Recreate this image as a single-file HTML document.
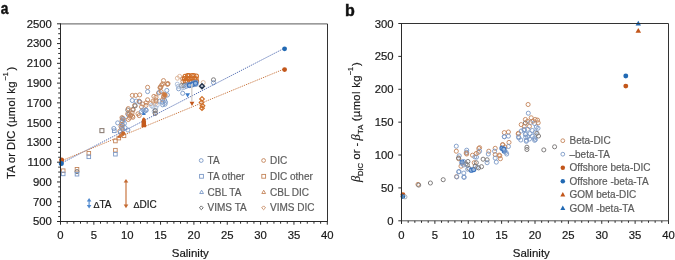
<!DOCTYPE html>
<html><head><meta charset="utf-8"><style>
html,body{margin:0;padding:0;background:#fff;}
svg{display:block;font-family:"Liberation Sans", sans-serif;will-change:transform;}
</style></head><body>
<svg width="675" height="260" viewBox="0 0 675 260">
<defs><filter id="sb" x="-5%" y="-5%" width="110%" height="110%"><feGaussianBlur stdDeviation="0.3"/></filter></defs>
<rect width="675" height="260" fill="#fff"/>
<g id="pa">
<g filter="url(#sb)">
<rect x="61.4" y="168.9" width="3.6" height="3.6" fill="none" stroke="#c4855a" stroke-width="0.9"/>
<rect x="61.4" y="172.1" width="3.6" height="3.6" fill="none" stroke="#7b98c6" stroke-width="0.9"/>
<rect x="75.2" y="167.5" width="3.6" height="3.6" fill="none" stroke="#c4855a" stroke-width="0.9"/>
<circle cx="77" cy="171.6" r="2.05" fill="none" stroke="#7f7c7c" stroke-width="1.0"/>
<rect x="75.2" y="172.4" width="3.6" height="3.6" fill="none" stroke="#7b98c6" stroke-width="0.9"/>
<rect x="87" y="151.5" width="3.6" height="3.6" fill="none" stroke="#c4855a" stroke-width="0.9"/>
<rect x="87" y="155" width="3.6" height="3.6" fill="none" stroke="#7b98c6" stroke-width="0.9"/>
<rect x="112.5" y="129" width="3.6" height="3.6" fill="none" stroke="#7b98c6" stroke-width="0.9"/>
<rect x="113.6" y="139.2" width="3.6" height="3.6" fill="none" stroke="#c4855a" stroke-width="0.9"/>
<rect x="117" y="136.3" width="3.6" height="3.6" fill="none" stroke="#c4855a" stroke-width="0.9"/>
<rect x="122.2" y="134" width="3.6" height="3.6" fill="none" stroke="#c4855a" stroke-width="0.9"/>
<polygon points="122.3,131.91 124.3,135.39 120.3,135.39" fill="#c2561a"/>
<polygon points="119.4,134.21 121.4,137.69 117.4,137.69" fill="#c2561a"/>
<rect x="113.6" y="148.4" width="3.6" height="3.6" fill="none" stroke="#c4855a" stroke-width="0.9"/>
<rect x="113.6" y="152.4" width="3.6" height="3.6" fill="none" stroke="#7b98c6" stroke-width="0.9"/>
<circle cx="117.7" cy="122.9" r="2.05" fill="none" stroke="#7b98c6" stroke-width="0.9"/>
<circle cx="124.4" cy="123.4" r="2.05" fill="none" stroke="#7b98c6" stroke-width="0.9"/>
<circle cx="125" cy="127.7" r="2.05" fill="none" stroke="#7b98c6" stroke-width="0.9"/>
<circle cx="127.9" cy="130" r="2.05" fill="none" stroke="#7b98c6" stroke-width="0.9"/>
<circle cx="113.8" cy="128.5" r="2.05" fill="none" stroke="#7b98c6" stroke-width="0.9"/>
<circle cx="122" cy="117.6" r="2.05" fill="none" stroke="#c4855a" stroke-width="0.9"/>
<circle cx="122.6" cy="118.5" r="2.05" fill="none" stroke="#7b98c6" stroke-width="0.9"/>
<circle cx="122" cy="120.5" r="2.05" fill="none" stroke="#c4855a" stroke-width="0.9"/>
<circle cx="122.6" cy="121.4" r="2.05" fill="none" stroke="#7b98c6" stroke-width="0.9"/>
<circle cx="122" cy="124.3" r="2.05" fill="none" stroke="#c4855a" stroke-width="0.9"/>
<circle cx="122.6" cy="125.2" r="2.05" fill="none" stroke="#7b98c6" stroke-width="0.9"/>
<circle cx="121" cy="126.5" r="2.05" fill="none" stroke="#c4855a" stroke-width="0.9"/>
<circle cx="121.6" cy="127.4" r="2.05" fill="none" stroke="#7b98c6" stroke-width="0.9"/>
<circle cx="119.8" cy="131.1" r="2.05" fill="none" stroke="#c4855a" stroke-width="0.9"/>
<circle cx="120.4" cy="132" r="2.05" fill="none" stroke="#7b98c6" stroke-width="0.9"/>
<circle cx="122" cy="128.2" r="2.05" fill="none" stroke="#c4855a" stroke-width="0.9"/>
<circle cx="122.6" cy="129.1" r="2.05" fill="none" stroke="#7b98c6" stroke-width="0.9"/>
<circle cx="127.7" cy="113.8" r="2.05" fill="none" stroke="#c4855a" stroke-width="0.9"/>
<circle cx="128.3" cy="114.7" r="2.05" fill="none" stroke="#7b98c6" stroke-width="0.9"/>
<circle cx="123" cy="118.5" r="2.05" fill="none" stroke="#c4855a" stroke-width="0.9"/>
<circle cx="123.6" cy="119.4" r="2.05" fill="none" stroke="#7b98c6" stroke-width="0.9"/>
<circle cx="129.2" cy="113.8" r="2.05" fill="none" stroke="#c4855a" stroke-width="0.9"/>
<circle cx="130.7" cy="115.7" r="2.05" fill="none" stroke="#c4855a" stroke-width="0.9"/>
<circle cx="132.1" cy="112.8" r="2.05" fill="none" stroke="#c4855a" stroke-width="0.9"/>
<circle cx="128.3" cy="119.5" r="2.05" fill="none" stroke="#c4855a" stroke-width="0.9"/>
<circle cx="130.6" cy="115" r="2.05" fill="none" stroke="#c4855a" stroke-width="0.9"/>
<circle cx="132.9" cy="117.3" r="2.05" fill="none" stroke="#c4855a" stroke-width="0.9"/>
<circle cx="127.8" cy="110" r="2.05" fill="none" stroke="#7f7c7c" stroke-width="1.0"/>
<circle cx="133" cy="109.4" r="2.05" fill="none" stroke="#7f7c7c" stroke-width="1.0"/>
<circle cx="128.3" cy="108.6" r="2.05" fill="none" stroke="#c4855a" stroke-width="0.9"/>
<circle cx="129.6" cy="117.9" r="2.05" fill="none" stroke="#c4855a" stroke-width="0.9"/>
<circle cx="132.5" cy="116.2" r="2.05" fill="none" stroke="#c4855a" stroke-width="0.9"/>
<circle cx="134.6" cy="105.4" r="2.05" fill="none" stroke="#c4855a" stroke-width="0.9"/>
<circle cx="133" cy="110" r="2.05" fill="none" stroke="#c4855a" stroke-width="0.9"/>
<circle cx="135.2" cy="105.8" r="2.05" fill="none" stroke="#7f7c7c" stroke-width="1.0"/>
<circle cx="132.3" cy="95.4" r="2.05" fill="none" stroke="#c4855a" stroke-width="0.9"/>
<circle cx="135.7" cy="95.4" r="2.05" fill="none" stroke="#c4855a" stroke-width="0.9"/>
<circle cx="139.7" cy="94.9" r="2.05" fill="none" stroke="#c4855a" stroke-width="0.9"/>
<circle cx="132.3" cy="100.5" r="2.05" fill="none" stroke="#7b98c6" stroke-width="0.9"/>
<circle cx="136.2" cy="101.1" r="2.05" fill="none" stroke="#7b98c6" stroke-width="0.9"/>
<circle cx="139.7" cy="102" r="2.05" fill="none" stroke="#7b98c6" stroke-width="0.9"/>
<circle cx="147.6" cy="87.3" r="2.05" fill="none" stroke="#c4855a" stroke-width="0.9"/>
<circle cx="147.6" cy="91.6" r="2.05" fill="none" stroke="#7b98c6" stroke-width="0.9"/>
<circle cx="139.4" cy="101.7" r="2.05" fill="none" stroke="#7b98c6" stroke-width="0.9"/>
<circle cx="147.6" cy="99.8" r="2.05" fill="none" stroke="#c4855a" stroke-width="0.9"/>
<circle cx="153.9" cy="96.4" r="2.05" fill="none" stroke="#c4855a" stroke-width="0.9"/>
<circle cx="155.8" cy="99.8" r="2.05" fill="none" stroke="#dcb59a" stroke-width="0.9"/>
<circle cx="154.8" cy="102.2" r="2.05" fill="none" stroke="#dcb59a" stroke-width="0.9"/>
<circle cx="141.5" cy="106.9" r="2.05" fill="none" stroke="#c4855a" stroke-width="0.9"/>
<circle cx="146" cy="105.4" r="2.05" fill="none" stroke="#c4855a" stroke-width="0.9"/>
<circle cx="138" cy="113.8" r="2.05" fill="none" stroke="#c4855a" stroke-width="0.9"/>
<circle cx="139.2" cy="115.6" r="2.05" fill="none" stroke="#c4855a" stroke-width="0.9"/>
<circle cx="143" cy="110" r="2.05" fill="none" stroke="#7b98c6" stroke-width="0.9"/>
<circle cx="146" cy="110" r="2.05" fill="none" stroke="#7b98c6" stroke-width="0.9"/>
<circle cx="141.5" cy="111.5" r="2.05" fill="none" stroke="#7b98c6" stroke-width="0.9"/>
<circle cx="144.4" cy="111.5" r="2.05" fill="none" stroke="#7b98c6" stroke-width="0.9"/>
<circle cx="146.1" cy="110.4" r="2.05" fill="none" stroke="#7b98c6" stroke-width="0.9"/>
<circle cx="139.2" cy="101.2" r="2.05" fill="none" stroke="#c4855a" stroke-width="0.9"/>
<circle cx="142.7" cy="104" r="2.05" fill="none" stroke="#c4855a" stroke-width="0.9"/>
<circle cx="146.1" cy="102.9" r="2.05" fill="none" stroke="#c4855a" stroke-width="0.9"/>
<circle cx="150.7" cy="103.5" r="2.05" fill="none" stroke="#c4855a" stroke-width="0.9"/>
<circle cx="153" cy="101.2" r="2.05" fill="none" stroke="#c4855a" stroke-width="0.9"/>
<circle cx="153" cy="106.9" r="2.05" fill="none" stroke="#a9bcd8" stroke-width="0.9"/>
<circle cx="154.2" cy="111.5" r="2.05" fill="none" stroke="#a9bcd8" stroke-width="0.9"/>
<circle cx="151.5" cy="105.6" r="2.05" fill="none" stroke="#a9bcd8" stroke-width="0.9"/>
<circle cx="157.2" cy="105" r="2.05" fill="none" stroke="#a9bcd8" stroke-width="0.9"/>
<circle cx="155.4" cy="113" r="2.05" fill="none" stroke="#dcb59a" stroke-width="0.9"/>
<circle cx="155.4" cy="110.8" r="2.05" fill="none" stroke="#a9bcd8" stroke-width="0.9"/>
<circle cx="158.5" cy="93" r="2.05" fill="none" stroke="#c4855a" stroke-width="0.9"/>
<circle cx="153.8" cy="101" r="2.05" fill="none" stroke="#dcb59a" stroke-width="0.9"/>
<circle cx="155.4" cy="103.8" r="2.05" fill="none" stroke="#dcb59a" stroke-width="0.9"/>
<circle cx="159.6" cy="101.2" r="2.05" fill="none" stroke="#7b98c6" stroke-width="0.9"/>
<circle cx="155.8" cy="107.7" r="2.05" fill="none" stroke="#a9bcd8" stroke-width="0.9"/>
<circle cx="155.2" cy="110.6" r="2.05" fill="none" stroke="#7f7c7c" stroke-width="1.0"/>
<circle cx="155.2" cy="113.5" r="2.05" fill="none" stroke="#7f7c7c" stroke-width="1.0"/>
<circle cx="163.8" cy="97.3" r="2.05" fill="none" stroke="#c4855a" stroke-width="0.9"/>
<circle cx="162.7" cy="99.6" r="2.05" fill="none" stroke="#c4855a" stroke-width="0.9"/>
<circle cx="162.7" cy="104.8" r="2.05" fill="none" stroke="#7b98c6" stroke-width="0.9"/>
<circle cx="165" cy="104.2" r="2.05" fill="none" stroke="#7b98c6" stroke-width="0.9"/>
<circle cx="163.5" cy="80.6" r="2.05" fill="none" stroke="#c4855a" stroke-width="0.9"/>
<circle cx="167.5" cy="84.3" r="2.05" fill="none" stroke="#c4855a" stroke-width="0.9"/>
<circle cx="160.8" cy="87.1" r="2.05" fill="none" stroke="#c4855a" stroke-width="0.9"/>
<circle cx="162.8" cy="83.9" r="2.05" fill="none" stroke="#c4855a" stroke-width="0.9"/>
<circle cx="159.3" cy="92.4" r="2.05" fill="none" stroke="#7b98c6" stroke-width="0.9"/>
<circle cx="166.8" cy="90.4" r="2.05" fill="none" stroke="#7b98c6" stroke-width="0.9"/>
<circle cx="167.4" cy="95" r="2.05" fill="none" stroke="#7b98c6" stroke-width="0.9"/>
<circle cx="164.6" cy="100.1" r="2.05" fill="none" stroke="#7b98c6" stroke-width="0.9"/>
<circle cx="156" cy="97.2" r="2.05" fill="none" stroke="#c4855a" stroke-width="0.9"/>
<circle cx="156" cy="101" r="2.05" fill="none" stroke="#c4855a" stroke-width="0.9"/>
<circle cx="161.6" cy="85.1" r="2.05" fill="none" stroke="#c4855a" stroke-width="0.9"/>
<circle cx="160.1" cy="87.8" r="2.05" fill="none" stroke="#c4855a" stroke-width="0.9"/>
<circle cx="161.1" cy="91.6" r="2.05" fill="none" stroke="#c4855a" stroke-width="0.9"/>
<circle cx="168" cy="83.6" r="2.05" fill="none" stroke="#c4855a" stroke-width="0.9"/>
<circle cx="203.2" cy="82.6" r="2.05" fill="none" stroke="#dcb59a" stroke-width="0.9"/>
<polygon points="202,96.7 204.3,99 202,101.3 199.7,99" fill="none" stroke="#d0702a" stroke-width="1.2"/>
<polygon points="201.5,100.1 203.8,102.4 201.5,104.7 199.2,102.4" fill="none" stroke="#d0702a" stroke-width="1.2"/>
<polygon points="202.5,103.5 204.8,105.8 202.5,108.1 200.2,105.8" fill="none" stroke="#d0702a" stroke-width="1.2"/>
<polygon points="202,105.9 204.3,108.2 202,110.5 199.7,108.2" fill="none" stroke="#d0702a" stroke-width="1.2"/>
<circle cx="213.5" cy="79.8" r="2.05" fill="none" stroke="#7f7c7c" stroke-width="1.0"/>
<circle cx="213.5" cy="82.7" r="2.05" fill="none" stroke="#7b98c6" stroke-width="0.9"/>
<circle cx="177.4" cy="78.2" r="2.05" fill="none" stroke="#dcb59a" stroke-width="0.9"/>
<circle cx="179.6" cy="76.4" r="2.05" fill="none" stroke="#dcb59a" stroke-width="0.9"/>
<circle cx="177.3" cy="84.2" r="2.05" fill="none" stroke="#a9bcd8" stroke-width="0.9"/>
<circle cx="178.6" cy="88.8" r="2.05" fill="none" stroke="#7b98c6" stroke-width="0.9"/>
<circle cx="182.7" cy="78.7" r="2.05" fill="none" stroke="#c4855a" stroke-width="0.9"/>
<circle cx="182.9" cy="81.5" r="2.05" fill="none" stroke="#c4855a" stroke-width="0.9"/>
<circle cx="185.1" cy="76.3" r="2.05" fill="none" stroke="#d06e26" stroke-width="1.05"/>
<circle cx="184.4" cy="78.5" r="2.05" fill="none" stroke="#d06e26" stroke-width="1.05"/>
<circle cx="185.3" cy="81.2" r="2.05" fill="none" stroke="#d06e26" stroke-width="1.05"/>
<circle cx="187.6" cy="75.5" r="2.05" fill="none" stroke="#d06e26" stroke-width="1.05"/>
<circle cx="187.2" cy="78.2" r="2.05" fill="none" stroke="#d06e26" stroke-width="1.05"/>
<circle cx="187.2" cy="81.2" r="2.05" fill="none" stroke="#d06e26" stroke-width="1.05"/>
<circle cx="189" cy="75.6" r="2.05" fill="none" stroke="#d06e26" stroke-width="1.05"/>
<circle cx="189.3" cy="78.9" r="2.05" fill="none" stroke="#d06e26" stroke-width="1.05"/>
<circle cx="189.8" cy="80.8" r="2.05" fill="none" stroke="#d06e26" stroke-width="1.05"/>
<circle cx="192.1" cy="75.5" r="2.05" fill="none" stroke="#d06e26" stroke-width="1.05"/>
<circle cx="191.9" cy="78.1" r="2.05" fill="none" stroke="#d06e26" stroke-width="1.05"/>
<circle cx="191.3" cy="81.5" r="2.05" fill="none" stroke="#d06e26" stroke-width="1.05"/>
<circle cx="193.8" cy="75.6" r="2.05" fill="none" stroke="#d06e26" stroke-width="1.05"/>
<circle cx="194.6" cy="78.9" r="2.05" fill="none" stroke="#d06e26" stroke-width="1.05"/>
<circle cx="193.9" cy="81.6" r="2.05" fill="none" stroke="#d06e26" stroke-width="1.05"/>
<circle cx="196.4" cy="76.1" r="2.05" fill="none" stroke="#d06e26" stroke-width="1.05"/>
<circle cx="196.1" cy="78.9" r="2.05" fill="none" stroke="#d06e26" stroke-width="1.05"/>
<circle cx="196.6" cy="81.6" r="2.05" fill="none" stroke="#d06e26" stroke-width="1.05"/>
<circle cx="164.1" cy="94.3" r="2.05" fill="none" stroke="#c4855a" stroke-width="0.9"/>
<circle cx="163.6" cy="96.4" r="2.05" fill="none" stroke="#c4855a" stroke-width="0.9"/>
<circle cx="165.2" cy="95.4" r="2.05" fill="none" stroke="#c4855a" stroke-width="0.9"/>
<circle cx="164.5" cy="94.9" r="2.05" fill="none" stroke="#c4855a" stroke-width="0.9"/>
<circle cx="167.4" cy="83.9" r="2.05" fill="none" stroke="#c4855a" stroke-width="0.9"/>
<circle cx="160.2" cy="87.2" r="2.05" fill="none" stroke="#c4855a" stroke-width="0.9"/>
<circle cx="162.2" cy="102.2" r="2.05" fill="none" stroke="#7b98c6" stroke-width="0.9"/>
<circle cx="165.5" cy="102.2" r="2.05" fill="none" stroke="#7b98c6" stroke-width="0.9"/>
<circle cx="181.5" cy="85.6" r="2.05" fill="none" stroke="#7f7c7c" stroke-width="1.0"/>
<circle cx="181.8" cy="88" r="2.05" fill="none" stroke="#a9bcd8" stroke-width="0.9"/>
<circle cx="184" cy="85.3" r="2.05" fill="none" stroke="#7f7c7c" stroke-width="1.0"/>
<circle cx="183.7" cy="87.6" r="2.05" fill="none" stroke="#a9bcd8" stroke-width="0.9"/>
<circle cx="186.6" cy="84.9" r="2.05" fill="none" stroke="#7b98c6" stroke-width="0.9"/>
<circle cx="186.2" cy="86.4" r="2.05" fill="none" stroke="#7b98c6" stroke-width="0.9"/>
<circle cx="188.7" cy="84.2" r="2.05" fill="none" stroke="#7b98c6" stroke-width="0.9"/>
<circle cx="189.2" cy="85.7" r="2.05" fill="none" stroke="#7b98c6" stroke-width="0.9"/>
<circle cx="191.9" cy="83.7" r="2.05" fill="none" stroke="#7b98c6" stroke-width="0.9"/>
<circle cx="191.6" cy="85.5" r="2.05" fill="none" stroke="#7b98c6" stroke-width="0.9"/>
<circle cx="193.7" cy="82.6" r="2.05" fill="none" stroke="#7b98c6" stroke-width="0.9"/>
<circle cx="194" cy="84.7" r="2.05" fill="none" stroke="#7b98c6" stroke-width="0.9"/>
<circle cx="196.3" cy="82.2" r="2.05" fill="none" stroke="#7b98c6" stroke-width="0.9"/>
<circle cx="196.1" cy="84.4" r="2.05" fill="none" stroke="#7b98c6" stroke-width="0.9"/>
<circle cx="182.7" cy="93.3" r="2.05" fill="none" stroke="#7b98c6" stroke-width="0.9"/>
<circle cx="178.2" cy="86.4" r="2.05" fill="none" stroke="#a9bcd8" stroke-width="0.9"/>
<circle cx="192.5" cy="84.2" r="2.0" fill="#9dbbe0"/>
<circle cx="192.5" cy="84.2" r="2.05" fill="none" stroke="#3a72bd" stroke-width="1.1"/>
<circle cx="195.5" cy="83.2" r="2.0" fill="#9dbbe0"/>
<circle cx="195.5" cy="83.2" r="2.05" fill="none" stroke="#3a72bd" stroke-width="1.1"/>
<circle cx="189.5" cy="85.2" r="2.0" fill="#9dbbe0"/>
<circle cx="189.5" cy="85.2" r="2.05" fill="none" stroke="#3a72bd" stroke-width="1.1"/>
</g>
<line x1="61" y1="163.4" x2="284.6" y2="48.1" stroke="#4f69b0" stroke-width="0.95" stroke-dasharray="1.3 1.0"/>
<line x1="61" y1="161" x2="284.6" y2="68.8" stroke="#c8763f" stroke-width="0.95" stroke-dasharray="1.3 1.0"/>
<circle cx="284.6" cy="48.8" r="2.4" fill="#2169b3"/>
<circle cx="284.6" cy="69.6" r="2.4" fill="#c2561a"/>
<circle cx="61.6" cy="159.9" r="2.5" fill="#c2561a"/>
<circle cx="61.3" cy="163.6" r="2.5" fill="#2169b3"/>
<circle cx="164.6" cy="94.8" r="2.1" fill="#cf7a3e"/>
<circle cx="123.2" cy="133.2" r="2.0" fill="#c8692a"/>
<circle cx="120.8" cy="135.4" r="1.8" fill="#d07a40"/>
<rect x="99.9" y="128.6" width="4.0" height="4.0" fill="none" stroke="#8f8178" stroke-width="1.1"/>
<line x1="191.8" y1="84" x2="191.8" y2="101.5" stroke="#d5d0cc" stroke-width="1.4" />
<path d="M141.5,127.3 L141.6,121.6 Q141.8,118.3 143.8,117.3 Q145.8,118.3 146,121.6 L146.1,127.3 Z" fill="#c45a1c"/>
<polygon points="143.8,111.41 145.8,114.89 141.8,114.89" fill="#3d7cc9"/>
<polygon points="185.2,93.33 190,93.33 187.6,97.51" fill="#3d7cc9"/>
<polygon points="189.6,101.73 194.4,101.73 192,105.91" fill="#c2561a"/>
<polygon points="202,83.8 204.4,86.2 202,88.6 199.6,86.2" fill="none" stroke="#26364f" stroke-width="1.5"/>
<circle cx="202" cy="86.2" r="0.5" fill="none" stroke="#7d8aa0" stroke-width="0.7"/>
<line x1="60.5" y1="23.8" x2="327.3" y2="23.8" stroke="#7a7a7a" stroke-width="1.2" />
<line x1="327.5" y1="23.8" x2="327.5" y2="221.5" stroke="#333" stroke-width="1" />
<line x1="60.5" y1="23.3" x2="60.5" y2="222" stroke="#2b2b2b" stroke-width="1" />
<line x1="60" y1="221.5" x2="327.8" y2="221.5" stroke="#2b2b2b" stroke-width="1" />
<line x1="57" y1="221.5" x2="60.5" y2="221.5" stroke="#2b2b2b" stroke-width="1" />
<line x1="58.2" y1="216.56" x2="60.5" y2="216.56" stroke="#2b2b2b" stroke-width="1" />
<line x1="58.2" y1="211.62" x2="60.5" y2="211.62" stroke="#2b2b2b" stroke-width="1" />
<line x1="58.2" y1="206.67" x2="60.5" y2="206.67" stroke="#2b2b2b" stroke-width="1" />
<line x1="57" y1="201.73" x2="60.5" y2="201.73" stroke="#2b2b2b" stroke-width="1" />
<line x1="58.2" y1="196.79" x2="60.5" y2="196.79" stroke="#2b2b2b" stroke-width="1" />
<line x1="58.2" y1="191.84" x2="60.5" y2="191.84" stroke="#2b2b2b" stroke-width="1" />
<line x1="58.2" y1="186.9" x2="60.5" y2="186.9" stroke="#2b2b2b" stroke-width="1" />
<line x1="57" y1="181.96" x2="60.5" y2="181.96" stroke="#2b2b2b" stroke-width="1" />
<line x1="58.2" y1="177.02" x2="60.5" y2="177.02" stroke="#2b2b2b" stroke-width="1" />
<line x1="58.2" y1="172.07" x2="60.5" y2="172.07" stroke="#2b2b2b" stroke-width="1" />
<line x1="58.2" y1="167.13" x2="60.5" y2="167.13" stroke="#2b2b2b" stroke-width="1" />
<line x1="57" y1="162.19" x2="60.5" y2="162.19" stroke="#2b2b2b" stroke-width="1" />
<line x1="58.2" y1="157.25" x2="60.5" y2="157.25" stroke="#2b2b2b" stroke-width="1" />
<line x1="58.2" y1="152.31" x2="60.5" y2="152.31" stroke="#2b2b2b" stroke-width="1" />
<line x1="58.2" y1="147.36" x2="60.5" y2="147.36" stroke="#2b2b2b" stroke-width="1" />
<line x1="57" y1="142.42" x2="60.5" y2="142.42" stroke="#2b2b2b" stroke-width="1" />
<line x1="58.2" y1="137.48" x2="60.5" y2="137.48" stroke="#2b2b2b" stroke-width="1" />
<line x1="58.2" y1="132.53" x2="60.5" y2="132.53" stroke="#2b2b2b" stroke-width="1" />
<line x1="58.2" y1="127.59" x2="60.5" y2="127.59" stroke="#2b2b2b" stroke-width="1" />
<line x1="57" y1="122.65" x2="60.5" y2="122.65" stroke="#2b2b2b" stroke-width="1" />
<line x1="58.2" y1="117.71" x2="60.5" y2="117.71" stroke="#2b2b2b" stroke-width="1" />
<line x1="58.2" y1="112.77" x2="60.5" y2="112.77" stroke="#2b2b2b" stroke-width="1" />
<line x1="58.2" y1="107.82" x2="60.5" y2="107.82" stroke="#2b2b2b" stroke-width="1" />
<line x1="57" y1="102.88" x2="60.5" y2="102.88" stroke="#2b2b2b" stroke-width="1" />
<line x1="58.2" y1="97.94" x2="60.5" y2="97.94" stroke="#2b2b2b" stroke-width="1" />
<line x1="58.2" y1="93" x2="60.5" y2="93" stroke="#2b2b2b" stroke-width="1" />
<line x1="58.2" y1="88.05" x2="60.5" y2="88.05" stroke="#2b2b2b" stroke-width="1" />
<line x1="57" y1="83.11" x2="60.5" y2="83.11" stroke="#2b2b2b" stroke-width="1" />
<line x1="58.2" y1="78.17" x2="60.5" y2="78.17" stroke="#2b2b2b" stroke-width="1" />
<line x1="58.2" y1="73.22" x2="60.5" y2="73.22" stroke="#2b2b2b" stroke-width="1" />
<line x1="58.2" y1="68.28" x2="60.5" y2="68.28" stroke="#2b2b2b" stroke-width="1" />
<line x1="57" y1="63.34" x2="60.5" y2="63.34" stroke="#2b2b2b" stroke-width="1" />
<line x1="58.2" y1="58.4" x2="60.5" y2="58.4" stroke="#2b2b2b" stroke-width="1" />
<line x1="58.2" y1="53.46" x2="60.5" y2="53.46" stroke="#2b2b2b" stroke-width="1" />
<line x1="58.2" y1="48.51" x2="60.5" y2="48.51" stroke="#2b2b2b" stroke-width="1" />
<line x1="57" y1="43.57" x2="60.5" y2="43.57" stroke="#2b2b2b" stroke-width="1" />
<line x1="58.2" y1="38.63" x2="60.5" y2="38.63" stroke="#2b2b2b" stroke-width="1" />
<line x1="58.2" y1="33.69" x2="60.5" y2="33.69" stroke="#2b2b2b" stroke-width="1" />
<line x1="58.2" y1="28.74" x2="60.5" y2="28.74" stroke="#2b2b2b" stroke-width="1" />
<line x1="57" y1="23.8" x2="60.5" y2="23.8" stroke="#2b2b2b" stroke-width="1" />
<text x="51.8" y="225.4" font-size="11.3" text-anchor="end" fill="#1a1a1a" stroke="#1a1a1a" stroke-width="0.2" >500</text>
<text x="51.8" y="205.63" font-size="11.3" text-anchor="end" fill="#1a1a1a" stroke="#1a1a1a" stroke-width="0.2" >700</text>
<text x="51.8" y="185.86" font-size="11.3" text-anchor="end" fill="#1a1a1a" stroke="#1a1a1a" stroke-width="0.2" >900</text>
<text x="51.8" y="166.09" font-size="11.3" text-anchor="end" fill="#1a1a1a" stroke="#1a1a1a" stroke-width="0.2" >1100</text>
<text x="51.8" y="146.32" font-size="11.3" text-anchor="end" fill="#1a1a1a" stroke="#1a1a1a" stroke-width="0.2" >1300</text>
<text x="51.8" y="126.55" font-size="11.3" text-anchor="end" fill="#1a1a1a" stroke="#1a1a1a" stroke-width="0.2" >1500</text>
<text x="51.8" y="106.78" font-size="11.3" text-anchor="end" fill="#1a1a1a" stroke="#1a1a1a" stroke-width="0.2" >1700</text>
<text x="51.8" y="87.01" font-size="11.3" text-anchor="end" fill="#1a1a1a" stroke="#1a1a1a" stroke-width="0.2" >1900</text>
<text x="51.8" y="67.24" font-size="11.3" text-anchor="end" fill="#1a1a1a" stroke="#1a1a1a" stroke-width="0.2" >2100</text>
<text x="51.8" y="47.47" font-size="11.3" text-anchor="end" fill="#1a1a1a" stroke="#1a1a1a" stroke-width="0.2" >2300</text>
<text x="51.8" y="27.7" font-size="11.3" text-anchor="end" fill="#1a1a1a" stroke="#1a1a1a" stroke-width="0.2" >2500</text>
<line x1="60.5" y1="221.5" x2="60.5" y2="224.7" stroke="#2b2b2b" stroke-width="1" />
<line x1="67.17" y1="221.5" x2="67.17" y2="223.7" stroke="#2b2b2b" stroke-width="1" />
<line x1="73.84" y1="221.5" x2="73.84" y2="223.7" stroke="#2b2b2b" stroke-width="1" />
<line x1="80.51" y1="221.5" x2="80.51" y2="223.7" stroke="#2b2b2b" stroke-width="1" />
<line x1="87.18" y1="221.5" x2="87.18" y2="223.7" stroke="#2b2b2b" stroke-width="1" />
<line x1="93.85" y1="221.5" x2="93.85" y2="224.7" stroke="#2b2b2b" stroke-width="1" />
<line x1="100.52" y1="221.5" x2="100.52" y2="223.7" stroke="#2b2b2b" stroke-width="1" />
<line x1="107.19" y1="221.5" x2="107.19" y2="223.7" stroke="#2b2b2b" stroke-width="1" />
<line x1="113.86" y1="221.5" x2="113.86" y2="223.7" stroke="#2b2b2b" stroke-width="1" />
<line x1="120.53" y1="221.5" x2="120.53" y2="223.7" stroke="#2b2b2b" stroke-width="1" />
<line x1="127.2" y1="221.5" x2="127.2" y2="224.7" stroke="#2b2b2b" stroke-width="1" />
<line x1="133.87" y1="221.5" x2="133.87" y2="223.7" stroke="#2b2b2b" stroke-width="1" />
<line x1="140.54" y1="221.5" x2="140.54" y2="223.7" stroke="#2b2b2b" stroke-width="1" />
<line x1="147.21" y1="221.5" x2="147.21" y2="223.7" stroke="#2b2b2b" stroke-width="1" />
<line x1="153.88" y1="221.5" x2="153.88" y2="223.7" stroke="#2b2b2b" stroke-width="1" />
<line x1="160.55" y1="221.5" x2="160.55" y2="224.7" stroke="#2b2b2b" stroke-width="1" />
<line x1="167.22" y1="221.5" x2="167.22" y2="223.7" stroke="#2b2b2b" stroke-width="1" />
<line x1="173.89" y1="221.5" x2="173.89" y2="223.7" stroke="#2b2b2b" stroke-width="1" />
<line x1="180.56" y1="221.5" x2="180.56" y2="223.7" stroke="#2b2b2b" stroke-width="1" />
<line x1="187.23" y1="221.5" x2="187.23" y2="223.7" stroke="#2b2b2b" stroke-width="1" />
<line x1="193.9" y1="221.5" x2="193.9" y2="224.7" stroke="#2b2b2b" stroke-width="1" />
<line x1="200.57" y1="221.5" x2="200.57" y2="223.7" stroke="#2b2b2b" stroke-width="1" />
<line x1="207.24" y1="221.5" x2="207.24" y2="223.7" stroke="#2b2b2b" stroke-width="1" />
<line x1="213.91" y1="221.5" x2="213.91" y2="223.7" stroke="#2b2b2b" stroke-width="1" />
<line x1="220.58" y1="221.5" x2="220.58" y2="223.7" stroke="#2b2b2b" stroke-width="1" />
<line x1="227.25" y1="221.5" x2="227.25" y2="224.7" stroke="#2b2b2b" stroke-width="1" />
<line x1="233.92" y1="221.5" x2="233.92" y2="223.7" stroke="#2b2b2b" stroke-width="1" />
<line x1="240.59" y1="221.5" x2="240.59" y2="223.7" stroke="#2b2b2b" stroke-width="1" />
<line x1="247.26" y1="221.5" x2="247.26" y2="223.7" stroke="#2b2b2b" stroke-width="1" />
<line x1="253.93" y1="221.5" x2="253.93" y2="223.7" stroke="#2b2b2b" stroke-width="1" />
<line x1="260.6" y1="221.5" x2="260.6" y2="224.7" stroke="#2b2b2b" stroke-width="1" />
<line x1="267.27" y1="221.5" x2="267.27" y2="223.7" stroke="#2b2b2b" stroke-width="1" />
<line x1="273.94" y1="221.5" x2="273.94" y2="223.7" stroke="#2b2b2b" stroke-width="1" />
<line x1="280.61" y1="221.5" x2="280.61" y2="223.7" stroke="#2b2b2b" stroke-width="1" />
<line x1="287.28" y1="221.5" x2="287.28" y2="223.7" stroke="#2b2b2b" stroke-width="1" />
<line x1="293.95" y1="221.5" x2="293.95" y2="224.7" stroke="#2b2b2b" stroke-width="1" />
<line x1="300.62" y1="221.5" x2="300.62" y2="223.7" stroke="#2b2b2b" stroke-width="1" />
<line x1="307.29" y1="221.5" x2="307.29" y2="223.7" stroke="#2b2b2b" stroke-width="1" />
<line x1="313.96" y1="221.5" x2="313.96" y2="223.7" stroke="#2b2b2b" stroke-width="1" />
<line x1="320.63" y1="221.5" x2="320.63" y2="223.7" stroke="#2b2b2b" stroke-width="1" />
<line x1="327.3" y1="221.5" x2="327.3" y2="224.7" stroke="#2b2b2b" stroke-width="1" />
<text x="60.5" y="238.9" font-size="11.3" text-anchor="middle" fill="#1a1a1a" stroke="#1a1a1a" stroke-width="0.2" >0</text>
<text x="93.85" y="238.9" font-size="11.3" text-anchor="middle" fill="#1a1a1a" stroke="#1a1a1a" stroke-width="0.2" >5</text>
<text x="127.2" y="238.9" font-size="11.3" text-anchor="middle" fill="#1a1a1a" stroke="#1a1a1a" stroke-width="0.2" >10</text>
<text x="160.55" y="238.9" font-size="11.3" text-anchor="middle" fill="#1a1a1a" stroke="#1a1a1a" stroke-width="0.2" >15</text>
<text x="193.9" y="238.9" font-size="11.3" text-anchor="middle" fill="#1a1a1a" stroke="#1a1a1a" stroke-width="0.2" >20</text>
<text x="227.25" y="238.9" font-size="11.3" text-anchor="middle" fill="#1a1a1a" stroke="#1a1a1a" stroke-width="0.2" >25</text>
<text x="260.6" y="238.9" font-size="11.3" text-anchor="middle" fill="#1a1a1a" stroke="#1a1a1a" stroke-width="0.2" >30</text>
<text x="293.95" y="238.9" font-size="11.3" text-anchor="middle" fill="#1a1a1a" stroke="#1a1a1a" stroke-width="0.2" >35</text>
<text x="327.3" y="238.9" font-size="11.3" text-anchor="middle" fill="#1a1a1a" stroke="#1a1a1a" stroke-width="0.2" >40</text>
<text x="190.3" y="257.3" font-size="11.5" text-anchor="middle" fill="#1a1a1a" stroke="#1a1a1a" stroke-width="0.2" >Salinity</text>
<g transform="translate(14.9,178.75) rotate(-90)" fill="#1a1a1a" stroke="#1a1a1a" stroke-width="0.2"><text x="-0.25" y="0" font-size="11.2">TA or DIC</text><text x="51.7" y="0" font-size="11.2" textLength="45.6" lengthAdjust="spacing">(µmol kg</text><text x="98.2" y="-6.6" font-size="7.4">−1</text><text x="108.2" y="0" font-size="11.2">)</text></g>
<text transform="translate(0.8,14.2) scale(0.86,1)" font-size="16" font-weight="bold" fill="#111" stroke="#111" stroke-width="0.45">a</text>
<circle cx="201.2" cy="160.5" r="1.9" fill="none" stroke="#7b98c6" stroke-width="0.9"/>
<text x="207.6" y="163.9" font-size="10" text-anchor="start" fill="#5c5c5c" stroke="#5c5c5c" stroke-width="0.2" >TA</text>
<rect x="199.6" y="174.4" width="3.8" height="3.8" fill="none" stroke="#7b98c6" stroke-width="0.9"/>
<text x="207.6" y="179.7" font-size="10" text-anchor="start" fill="#5c5c5c" stroke="#5c5c5c" stroke-width="0.2" >TA other</text>
<polygon points="201.6,190.22 203.5,193.52 199.7,193.52" fill="none" stroke="#7b98c6" stroke-width="0.9"/>
<text x="207.6" y="195.6" font-size="10" text-anchor="start" fill="#5c5c5c" stroke="#5c5c5c" stroke-width="0.2" >CBL TA</text>
<polygon points="201.3,205.9 203.2,207.8 201.3,209.7 199.4,207.8" fill="none" stroke="#5a5a5a" stroke-width="0.9"/>
<text x="207.6" y="211.2" font-size="10" text-anchor="start" fill="#5c5c5c" stroke="#5c5c5c" stroke-width="0.2" >VIMS TA</text>
<circle cx="263.6" cy="160.5" r="1.9" fill="none" stroke="#c4855a" stroke-width="0.9"/>
<text x="270" y="163.9" font-size="10" text-anchor="start" fill="#5c5c5c" stroke="#5c5c5c" stroke-width="0.2" >DIC</text>
<rect x="261.8" y="174.4" width="3.8" height="3.8" fill="none" stroke="#c4855a" stroke-width="0.9"/>
<text x="270" y="179.7" font-size="10" text-anchor="start" fill="#5c5c5c" stroke="#5c5c5c" stroke-width="0.2" >DIC other</text>
<polygon points="263.7,190.22 265.6,193.52 261.8,193.52" fill="none" stroke="#c4855a" stroke-width="0.9"/>
<text x="270" y="195.6" font-size="10" text-anchor="start" fill="#5c5c5c" stroke="#5c5c5c" stroke-width="0.2" >CBL DIC</text>
<polygon points="263.6,205.9 265.5,207.8 263.6,209.7 261.7,207.8" fill="none" stroke="#c4855a" stroke-width="0.9"/>
<text x="270" y="211.2" font-size="10" text-anchor="start" fill="#5c5c5c" stroke="#5c5c5c" stroke-width="0.2" >VIMS DIC</text>
<line x1="89.1" y1="200.1" x2="89.1" y2="206.3" stroke="#4f89cf" stroke-width="1.1" />
<polygon points="89.1,198 91.4,201.5 86.8,201.5" fill="#4f89cf"/>
<polygon points="89.1,208.4 91.4,204.9 86.8,204.9" fill="#4f89cf"/>
<line x1="126" y1="181.06" x2="126" y2="206.04" stroke="#c4692f" stroke-width="1.1" />
<polygon points="126,178.9 128.3,182.5 123.7,182.5" fill="#c4692f"/>
<polygon points="126,208.2 128.3,204.6 123.7,204.6" fill="#c4692f"/>
<text x="93.4" y="207.7" font-size="10" text-anchor="start" fill="#1a1a1a" stroke="#1a1a1a" stroke-width="0.2" ><tspan font-size="9">Δ</tspan>TA</text>
<text x="133.6" y="207.9" font-size="10" text-anchor="start" fill="#1a1a1a" stroke="#1a1a1a" stroke-width="0.2" ><tspan font-size="9">Δ</tspan>DIC</text>
</g>
<g id="pb">
<g filter="url(#sb)">
<circle cx="418" cy="184.4" r="2.05" fill="none" stroke="#c4855a" stroke-width="0.9"/>
<circle cx="418.7" cy="185.1" r="2.05" fill="none" stroke="#7f7c7c" stroke-width="1.0"/>
<circle cx="430.4" cy="183" r="2.05" fill="none" stroke="#7f7c7c" stroke-width="1.0"/>
<circle cx="443.2" cy="179.7" r="2.05" fill="none" stroke="#7f7c7c" stroke-width="1.0"/>
<circle cx="456.5" cy="176.7" r="2.05" fill="none" stroke="#c4855a" stroke-width="0.9"/>
<circle cx="456.8" cy="176.9" r="2.05" fill="none" stroke="#7b98c6" stroke-width="0.9"/>
<circle cx="456.3" cy="146.2" r="2.05" fill="none" stroke="#7b98c6" stroke-width="0.9"/>
<circle cx="456.3" cy="151.2" r="2.05" fill="none" stroke="#c4855a" stroke-width="0.9"/>
<circle cx="459.2" cy="155.8" r="2.05" fill="none" stroke="#7b98c6" stroke-width="0.9"/>
<circle cx="458.7" cy="158.7" r="2.05" fill="none" stroke="#c4855a" stroke-width="0.9"/>
<circle cx="462.1" cy="162.1" r="2.0" fill="#9dbbe0"/>
<circle cx="462.1" cy="162.1" r="2.05" fill="none" stroke="#3a72bd" stroke-width="1.1"/>
<circle cx="463.8" cy="161.5" r="2.05" fill="none" stroke="#7b98c6" stroke-width="0.9"/>
<circle cx="461" cy="166.2" r="2.05" fill="none" stroke="#c4855a" stroke-width="0.9"/>
<circle cx="467.9" cy="161.5" r="2.05" fill="none" stroke="#7f7c7c" stroke-width="1.0"/>
<circle cx="467.3" cy="165" r="2.05" fill="none" stroke="#7f7c7c" stroke-width="1.0"/>
<circle cx="469" cy="168.5" r="2.05" fill="none" stroke="#7f7c7c" stroke-width="1.0"/>
<circle cx="471.3" cy="170.2" r="2.0" fill="#9dbbe0"/>
<circle cx="471.3" cy="170.2" r="2.05" fill="none" stroke="#3a72bd" stroke-width="1.1"/>
<circle cx="473.7" cy="169.6" r="2.0" fill="#9dbbe0"/>
<circle cx="473.7" cy="169.6" r="2.05" fill="none" stroke="#3a72bd" stroke-width="1.1"/>
<circle cx="458.7" cy="171.9" r="2.05" fill="none" stroke="#7b98c6" stroke-width="0.9"/>
<circle cx="463.8" cy="173.1" r="2.05" fill="none" stroke="#7b98c6" stroke-width="0.9"/>
<circle cx="463.8" cy="177.1" r="2.05" fill="none" stroke="#7b98c6" stroke-width="0.9"/>
<circle cx="466.7" cy="154" r="2.05" fill="none" stroke="#c4855a" stroke-width="0.9"/>
<circle cx="466.7" cy="150.2" r="2.05" fill="none" stroke="#7b98c6" stroke-width="0.9"/>
<circle cx="466.7" cy="152.3" r="2.05" fill="none" stroke="#7b98c6" stroke-width="0.9"/>
<circle cx="466.2" cy="153.1" r="2.05" fill="none" stroke="#c4855a" stroke-width="0.9"/>
<circle cx="472.5" cy="155.2" r="2.05" fill="none" stroke="#c4855a" stroke-width="0.9"/>
<circle cx="474.8" cy="156.9" r="2.05" fill="none" stroke="#7b98c6" stroke-width="0.9"/>
<circle cx="474.2" cy="162.7" r="2.05" fill="none" stroke="#c4855a" stroke-width="0.9"/>
<circle cx="477.1" cy="167.3" r="2.05" fill="none" stroke="#7b98c6" stroke-width="0.9"/>
<circle cx="478.3" cy="152.3" r="2.05" fill="none" stroke="#c4855a" stroke-width="0.9"/>
<circle cx="478.8" cy="148.5" r="2.05" fill="none" stroke="#c4855a" stroke-width="0.9"/>
<circle cx="476.5" cy="157.1" r="2.05" fill="none" stroke="#7b98c6" stroke-width="0.9"/>
<circle cx="459" cy="171.5" r="2.05" fill="none" stroke="#7b98c6" stroke-width="0.9"/>
<circle cx="464.2" cy="177.3" r="2.05" fill="none" stroke="#7b98c6" stroke-width="0.9"/>
<circle cx="461.9" cy="163.5" r="2.05" fill="none" stroke="#7b98c6" stroke-width="0.9"/>
<circle cx="467.7" cy="169.2" r="2.05" fill="none" stroke="#7b98c6" stroke-width="0.9"/>
<circle cx="479.6" cy="147.7" r="2.05" fill="none" stroke="#c4855a" stroke-width="0.9"/>
<circle cx="479.6" cy="151.2" r="2.05" fill="none" stroke="#7b98c6" stroke-width="0.9"/>
<circle cx="476.2" cy="153.5" r="2.05" fill="none" stroke="#c4855a" stroke-width="0.9"/>
<circle cx="488.8" cy="151.2" r="2.05" fill="none" stroke="#c4855a" stroke-width="0.9"/>
<circle cx="488.3" cy="154" r="2.05" fill="none" stroke="#7b98c6" stroke-width="0.9"/>
<circle cx="483.1" cy="159.2" r="2.05" fill="none" stroke="#7f7c7c" stroke-width="1.0"/>
<circle cx="487.1" cy="159.8" r="2.05" fill="none" stroke="#7f7c7c" stroke-width="1.0"/>
<circle cx="487.1" cy="162.7" r="2.05" fill="none" stroke="#7b98c6" stroke-width="0.9"/>
<circle cx="495.2" cy="148.3" r="2.05" fill="none" stroke="#c4855a" stroke-width="0.9"/>
<circle cx="494.6" cy="151.2" r="2.05" fill="none" stroke="#7b98c6" stroke-width="0.9"/>
<circle cx="495.2" cy="154.6" r="2.05" fill="none" stroke="#c4855a" stroke-width="0.9"/>
<circle cx="495.2" cy="158.1" r="2.05" fill="none" stroke="#7b98c6" stroke-width="0.9"/>
<circle cx="496.3" cy="162.1" r="2.05" fill="none" stroke="#7b98c6" stroke-width="0.9"/>
<circle cx="499.8" cy="155.8" r="2.05" fill="none" stroke="#c4855a" stroke-width="0.9"/>
<circle cx="500.4" cy="158.7" r="2.05" fill="none" stroke="#c4855a" stroke-width="0.9"/>
<circle cx="502.7" cy="144.8" r="2.05" fill="none" stroke="#c4855a" stroke-width="0.9"/>
<circle cx="502.7" cy="148.8" r="2.05" fill="none" stroke="#7b98c6" stroke-width="0.9"/>
<circle cx="504.4" cy="136.7" r="2.05" fill="none" stroke="#7b98c6" stroke-width="0.9"/>
<circle cx="504.3" cy="132.6" r="2.05" fill="none" stroke="#c4855a" stroke-width="0.9"/>
<circle cx="508.4" cy="132" r="2.05" fill="none" stroke="#c4855a" stroke-width="0.9"/>
<circle cx="504.3" cy="136.7" r="2.05" fill="none" stroke="#7b98c6" stroke-width="0.9"/>
<circle cx="508.4" cy="136.1" r="2.05" fill="none" stroke="#7b98c6" stroke-width="0.9"/>
<circle cx="518.2" cy="133.8" r="2.05" fill="none" stroke="#c4855a" stroke-width="0.9"/>
<circle cx="518.8" cy="137.8" r="2.05" fill="none" stroke="#7b98c6" stroke-width="0.9"/>
<circle cx="524" cy="129.7" r="2.05" fill="none" stroke="#7b98c6" stroke-width="0.9"/>
<circle cx="525.7" cy="133.8" r="2.05" fill="none" stroke="#7b98c6" stroke-width="0.9"/>
<circle cx="525.7" cy="137.2" r="2.05" fill="none" stroke="#7b98c6" stroke-width="0.9"/>
<circle cx="526.3" cy="141.3" r="2.05" fill="none" stroke="#7b98c6" stroke-width="0.9"/>
<circle cx="509" cy="142.4" r="2.05" fill="none" stroke="#c4855a" stroke-width="0.9"/>
<circle cx="508.4" cy="146.5" r="2.05" fill="none" stroke="#7b98c6" stroke-width="0.9"/>
<circle cx="502.6" cy="144.7" r="2.05" fill="none" stroke="#c4855a" stroke-width="0.9"/>
<circle cx="502" cy="148.2" r="2.0" fill="#9dbbe0"/>
<circle cx="502" cy="148.2" r="2.05" fill="none" stroke="#3a72bd" stroke-width="1.1"/>
<circle cx="504.3" cy="151.1" r="2.0" fill="#9dbbe0"/>
<circle cx="504.3" cy="151.1" r="2.05" fill="none" stroke="#3a72bd" stroke-width="1.1"/>
<circle cx="506.7" cy="154" r="2.05" fill="none" stroke="#7b98c6" stroke-width="0.9"/>
<circle cx="504.9" cy="147" r="2.05" fill="none" stroke="#c4855a" stroke-width="0.9"/>
<circle cx="526.9" cy="147.2" r="2.05" fill="none" stroke="#7f7c7c" stroke-width="1.0"/>
<circle cx="526.9" cy="149.5" r="2.05" fill="none" stroke="#7f7c7c" stroke-width="1.0"/>
<circle cx="499.2" cy="155.1" r="2.05" fill="none" stroke="#c4855a" stroke-width="0.9"/>
<circle cx="503.8" cy="149.2" r="2.0" fill="#9dbbe0"/>
<circle cx="503.8" cy="149.2" r="2.05" fill="none" stroke="#3a72bd" stroke-width="1.1"/>
<circle cx="506" cy="152.3" r="2.05" fill="none" stroke="#7b98c6" stroke-width="0.9"/>
<circle cx="528.3" cy="113.2" r="2.05" fill="none" stroke="#7b98c6" stroke-width="0.9"/>
<circle cx="528.1" cy="104.5" r="2.05" fill="none" stroke="#c4855a" stroke-width="0.9"/>
<circle cx="525.4" cy="119.5" r="2.05" fill="none" stroke="#c4855a" stroke-width="0.9"/>
<circle cx="531.2" cy="117.8" r="2.05" fill="none" stroke="#c4855a" stroke-width="0.9"/>
<circle cx="535.2" cy="119.5" r="2.05" fill="none" stroke="#c4855a" stroke-width="0.9"/>
<circle cx="537.5" cy="120.1" r="2.05" fill="none" stroke="#c4855a" stroke-width="0.9"/>
<circle cx="525.4" cy="123" r="2.05" fill="none" stroke="#7f7c7c" stroke-width="1.0"/>
<circle cx="530.6" cy="122.4" r="2.05" fill="none" stroke="#7b98c6" stroke-width="0.9"/>
<circle cx="534.6" cy="123.5" r="2.05" fill="none" stroke="#7b98c6" stroke-width="0.9"/>
<circle cx="536.3" cy="127" r="2.05" fill="none" stroke="#7b98c6" stroke-width="0.9"/>
<circle cx="524.2" cy="126.4" r="2.05" fill="none" stroke="#c4855a" stroke-width="0.9"/>
<circle cx="529.4" cy="126.4" r="2.05" fill="none" stroke="#c4855a" stroke-width="0.9"/>
<circle cx="524.2" cy="129.9" r="2.05" fill="none" stroke="#7b98c6" stroke-width="0.9"/>
<circle cx="527.7" cy="129.3" r="2.05" fill="none" stroke="#7b98c6" stroke-width="0.9"/>
<circle cx="532.3" cy="130.5" r="2.05" fill="none" stroke="#7b98c6" stroke-width="0.9"/>
<circle cx="535.2" cy="132.2" r="2.05" fill="none" stroke="#7b98c6" stroke-width="0.9"/>
<circle cx="518.5" cy="133.3" r="2.05" fill="none" stroke="#c4855a" stroke-width="0.9"/>
<circle cx="518.5" cy="136.8" r="2.05" fill="none" stroke="#7b98c6" stroke-width="0.9"/>
<circle cx="525.4" cy="134.5" r="2.05" fill="none" stroke="#7b98c6" stroke-width="0.9"/>
<circle cx="527.7" cy="136.8" r="2.05" fill="none" stroke="#7b98c6" stroke-width="0.9"/>
<circle cx="532.3" cy="136.2" r="2.05" fill="none" stroke="#7b98c6" stroke-width="0.9"/>
<circle cx="534.6" cy="138" r="2.05" fill="none" stroke="#7b98c6" stroke-width="0.9"/>
<circle cx="536.9" cy="133.3" r="2.05" fill="none" stroke="#7f7c7c" stroke-width="1.0"/>
<circle cx="526.5" cy="140.3" r="2.05" fill="none" stroke="#7b98c6" stroke-width="0.9"/>
<circle cx="534.6" cy="140.3" r="2.05" fill="none" stroke="#7b98c6" stroke-width="0.9"/>
<circle cx="535.4" cy="139.5" r="2.05" fill="none" stroke="#7b98c6" stroke-width="0.9"/>
<circle cx="520.8" cy="140" r="2.05" fill="none" stroke="#7b98c6" stroke-width="0.9"/>
<circle cx="543.8" cy="149.9" r="2.05" fill="none" stroke="#7f7c7c" stroke-width="1.0"/>
<circle cx="554.6" cy="146.8" r="2.05" fill="none" stroke="#7f7c7c" stroke-width="1.0"/>
<circle cx="466" cy="163.8" r="2.05" fill="none" stroke="#7f7c7c" stroke-width="1.0"/>
<circle cx="475.2" cy="166.1" r="2.05" fill="none" stroke="#7f7c7c" stroke-width="1.0"/>
<circle cx="478.6" cy="167.9" r="2.05" fill="none" stroke="#7f7c7c" stroke-width="1.0"/>
<circle cx="481.5" cy="166.7" r="2.05" fill="none" stroke="#7f7c7c" stroke-width="1.0"/>
<circle cx="476.3" cy="162.7" r="2.05" fill="none" stroke="#7f7c7c" stroke-width="1.0"/>
<circle cx="463.6" cy="165" r="2.05" fill="none" stroke="#7b98c6" stroke-width="0.9"/>
<circle cx="458.5" cy="158" r="2.05" fill="none" stroke="#7f7c7c" stroke-width="1.0"/>
<circle cx="533" cy="121.2" r="2.05" fill="none" stroke="#c4855a" stroke-width="0.9"/>
<circle cx="538.2" cy="122.8" r="2.05" fill="none" stroke="#c4855a" stroke-width="0.9"/>
<circle cx="521.2" cy="124.6" r="2.05" fill="none" stroke="#c4855a" stroke-width="0.9"/>
<circle cx="538" cy="128.2" r="2.05" fill="none" stroke="#7b98c6" stroke-width="0.9"/>
<circle cx="521.3" cy="131" r="2.05" fill="none" stroke="#7b98c6" stroke-width="0.9"/>
<circle cx="530" cy="133.6" r="2.05" fill="none" stroke="#7b98c6" stroke-width="0.9"/>
<circle cx="538.5" cy="136" r="2.05" fill="none" stroke="#7f7c7c" stroke-width="1.0"/>
<circle cx="529.5" cy="139" r="2.05" fill="none" stroke="#7b98c6" stroke-width="0.9"/>
<circle cx="527.5" cy="121.4" r="2.05" fill="none" stroke="#c4855a" stroke-width="0.9"/>
</g>
<circle cx="402.9" cy="194.6" r="2.4" fill="#c2561a"/>
<circle cx="402.9" cy="196.6" r="2.4" fill="#2169b3"/>
<circle cx="405" cy="196.9" r="2.0" fill="none" stroke="#9aa4b0" stroke-width="0.9"/>
<circle cx="625.8" cy="76" r="2.45" fill="#2169b3"/>
<circle cx="625.8" cy="86.1" r="2.45" fill="#c2561a"/>
<polygon points="638.3,27.98 641.1,32.85 635.5,32.85" fill="#c2561a"/>
<polygon points="638.3,20.78 641,25.48 635.6,25.48" fill="#2169b3"/>
<line x1="401.5" y1="23.5" x2="668.5" y2="23.5" stroke="#333" stroke-width="1" />
<line x1="668.5" y1="23.5" x2="668.5" y2="223.8" stroke="#333" stroke-width="1" />
<line x1="401.5" y1="23" x2="401.5" y2="223.8" stroke="#2b2b2b" stroke-width="1" />
<line x1="401.5" y1="220.8" x2="668.5" y2="220.8" stroke="#555" stroke-width="1" />
<line x1="398.3" y1="220.8" x2="401.5" y2="220.8" stroke="#2b2b2b" stroke-width="1" />
<text x="393.6" y="224.8" font-size="11.3" text-anchor="end" fill="#1a1a1a" stroke="#1a1a1a" stroke-width="0.2" >0</text>
<line x1="398.3" y1="187.92" x2="401.5" y2="187.92" stroke="#2b2b2b" stroke-width="1" />
<text x="393.6" y="191.92" font-size="11.3" text-anchor="end" fill="#1a1a1a" stroke="#1a1a1a" stroke-width="0.2" >50</text>
<line x1="398.3" y1="155.03" x2="401.5" y2="155.03" stroke="#2b2b2b" stroke-width="1" />
<text x="393.6" y="159.03" font-size="11.3" text-anchor="end" fill="#1a1a1a" stroke="#1a1a1a" stroke-width="0.2" >100</text>
<line x1="398.3" y1="122.15" x2="401.5" y2="122.15" stroke="#2b2b2b" stroke-width="1" />
<text x="393.6" y="126.15" font-size="11.3" text-anchor="end" fill="#1a1a1a" stroke="#1a1a1a" stroke-width="0.2" >150</text>
<line x1="398.3" y1="89.27" x2="401.5" y2="89.27" stroke="#2b2b2b" stroke-width="1" />
<text x="393.6" y="93.27" font-size="11.3" text-anchor="end" fill="#1a1a1a" stroke="#1a1a1a" stroke-width="0.2" >200</text>
<line x1="398.3" y1="56.38" x2="401.5" y2="56.38" stroke="#2b2b2b" stroke-width="1" />
<text x="393.6" y="60.38" font-size="11.3" text-anchor="end" fill="#1a1a1a" stroke="#1a1a1a" stroke-width="0.2" >250</text>
<line x1="398.3" y1="23.5" x2="401.5" y2="23.5" stroke="#2b2b2b" stroke-width="1" />
<text x="393.6" y="27.5" font-size="11.3" text-anchor="end" fill="#1a1a1a" stroke="#1a1a1a" stroke-width="0.2" >300</text>
<line x1="401.5" y1="220.8" x2="401.5" y2="223.8" stroke="#2b2b2b" stroke-width="1" />
<line x1="408.18" y1="220.8" x2="408.18" y2="222.8" stroke="#2b2b2b" stroke-width="1" />
<line x1="414.85" y1="220.8" x2="414.85" y2="222.8" stroke="#2b2b2b" stroke-width="1" />
<line x1="421.52" y1="220.8" x2="421.52" y2="222.8" stroke="#2b2b2b" stroke-width="1" />
<line x1="428.2" y1="220.8" x2="428.2" y2="222.8" stroke="#2b2b2b" stroke-width="1" />
<line x1="434.88" y1="220.8" x2="434.88" y2="223.8" stroke="#2b2b2b" stroke-width="1" />
<line x1="441.55" y1="220.8" x2="441.55" y2="222.8" stroke="#2b2b2b" stroke-width="1" />
<line x1="448.23" y1="220.8" x2="448.23" y2="222.8" stroke="#2b2b2b" stroke-width="1" />
<line x1="454.9" y1="220.8" x2="454.9" y2="222.8" stroke="#2b2b2b" stroke-width="1" />
<line x1="461.57" y1="220.8" x2="461.57" y2="222.8" stroke="#2b2b2b" stroke-width="1" />
<line x1="468.25" y1="220.8" x2="468.25" y2="223.8" stroke="#2b2b2b" stroke-width="1" />
<line x1="474.93" y1="220.8" x2="474.93" y2="222.8" stroke="#2b2b2b" stroke-width="1" />
<line x1="481.6" y1="220.8" x2="481.6" y2="222.8" stroke="#2b2b2b" stroke-width="1" />
<line x1="488.27" y1="220.8" x2="488.27" y2="222.8" stroke="#2b2b2b" stroke-width="1" />
<line x1="494.95" y1="220.8" x2="494.95" y2="222.8" stroke="#2b2b2b" stroke-width="1" />
<line x1="501.62" y1="220.8" x2="501.62" y2="223.8" stroke="#2b2b2b" stroke-width="1" />
<line x1="508.3" y1="220.8" x2="508.3" y2="222.8" stroke="#2b2b2b" stroke-width="1" />
<line x1="514.98" y1="220.8" x2="514.98" y2="222.8" stroke="#2b2b2b" stroke-width="1" />
<line x1="521.65" y1="220.8" x2="521.65" y2="222.8" stroke="#2b2b2b" stroke-width="1" />
<line x1="528.33" y1="220.8" x2="528.33" y2="222.8" stroke="#2b2b2b" stroke-width="1" />
<line x1="535" y1="220.8" x2="535" y2="223.8" stroke="#2b2b2b" stroke-width="1" />
<line x1="541.67" y1="220.8" x2="541.67" y2="222.8" stroke="#2b2b2b" stroke-width="1" />
<line x1="548.35" y1="220.8" x2="548.35" y2="222.8" stroke="#2b2b2b" stroke-width="1" />
<line x1="555.02" y1="220.8" x2="555.02" y2="222.8" stroke="#2b2b2b" stroke-width="1" />
<line x1="561.7" y1="220.8" x2="561.7" y2="222.8" stroke="#2b2b2b" stroke-width="1" />
<line x1="568.38" y1="220.8" x2="568.38" y2="223.8" stroke="#2b2b2b" stroke-width="1" />
<line x1="575.05" y1="220.8" x2="575.05" y2="222.8" stroke="#2b2b2b" stroke-width="1" />
<line x1="581.73" y1="220.8" x2="581.73" y2="222.8" stroke="#2b2b2b" stroke-width="1" />
<line x1="588.4" y1="220.8" x2="588.4" y2="222.8" stroke="#2b2b2b" stroke-width="1" />
<line x1="595.08" y1="220.8" x2="595.08" y2="222.8" stroke="#2b2b2b" stroke-width="1" />
<line x1="601.75" y1="220.8" x2="601.75" y2="223.8" stroke="#2b2b2b" stroke-width="1" />
<line x1="608.42" y1="220.8" x2="608.42" y2="222.8" stroke="#2b2b2b" stroke-width="1" />
<line x1="615.1" y1="220.8" x2="615.1" y2="222.8" stroke="#2b2b2b" stroke-width="1" />
<line x1="621.77" y1="220.8" x2="621.77" y2="222.8" stroke="#2b2b2b" stroke-width="1" />
<line x1="628.45" y1="220.8" x2="628.45" y2="222.8" stroke="#2b2b2b" stroke-width="1" />
<line x1="635.12" y1="220.8" x2="635.12" y2="223.8" stroke="#2b2b2b" stroke-width="1" />
<line x1="641.8" y1="220.8" x2="641.8" y2="222.8" stroke="#2b2b2b" stroke-width="1" />
<line x1="648.48" y1="220.8" x2="648.48" y2="222.8" stroke="#2b2b2b" stroke-width="1" />
<line x1="655.15" y1="220.8" x2="655.15" y2="222.8" stroke="#2b2b2b" stroke-width="1" />
<line x1="661.83" y1="220.8" x2="661.83" y2="222.8" stroke="#2b2b2b" stroke-width="1" />
<line x1="668.5" y1="220.8" x2="668.5" y2="223.8" stroke="#2b2b2b" stroke-width="1" />
<text x="401.5" y="238.9" font-size="11.3" text-anchor="middle" fill="#1a1a1a" stroke="#1a1a1a" stroke-width="0.2" >0</text>
<text x="434.88" y="238.9" font-size="11.3" text-anchor="middle" fill="#1a1a1a" stroke="#1a1a1a" stroke-width="0.2" >5</text>
<text x="468.25" y="238.9" font-size="11.3" text-anchor="middle" fill="#1a1a1a" stroke="#1a1a1a" stroke-width="0.2" >10</text>
<text x="501.62" y="238.9" font-size="11.3" text-anchor="middle" fill="#1a1a1a" stroke="#1a1a1a" stroke-width="0.2" >15</text>
<text x="535" y="238.9" font-size="11.3" text-anchor="middle" fill="#1a1a1a" stroke="#1a1a1a" stroke-width="0.2" >20</text>
<text x="568.38" y="238.9" font-size="11.3" text-anchor="middle" fill="#1a1a1a" stroke="#1a1a1a" stroke-width="0.2" >25</text>
<text x="601.75" y="238.9" font-size="11.3" text-anchor="middle" fill="#1a1a1a" stroke="#1a1a1a" stroke-width="0.2" >30</text>
<text x="635.12" y="238.9" font-size="11.3" text-anchor="middle" fill="#1a1a1a" stroke="#1a1a1a" stroke-width="0.2" >35</text>
<text x="668.5" y="238.9" font-size="11.3" text-anchor="middle" fill="#1a1a1a" stroke="#1a1a1a" stroke-width="0.2" >40</text>
<text x="531.3" y="257.3" font-size="11.5" text-anchor="middle" fill="#1a1a1a" stroke="#1a1a1a" stroke-width="0.2" >Salinity</text>
<g transform="translate(359.9,182.3) rotate(-90)" fill="#1a1a1a" stroke="#1a1a1a" stroke-width="0.2"><text x="0.3" y="0" font-family="Liberation Serif" font-style="italic" font-size="12.6">β</text><text x="6.3" y="3.0" font-size="7.6">DIC</text><text x="22.8" y="0" font-size="11.2">or -</text><text x="41.8" y="0" font-family="Liberation Serif" font-style="italic" font-size="12.6">β</text><text x="48.4" y="3.0" font-size="7.6">TA</text><text x="61.1" y="0" font-size="11.2" textLength="45.6" lengthAdjust="spacing">(µmol kg</text><text x="107" y="-6.6" font-size="7.4">−1</text><text x="116.3" y="0" font-size="11.2">)</text></g>
<text x="345.1" y="15.7" font-size="16" font-weight="bold" fill="#111" stroke="#111" stroke-width="0.45">b</text>
<circle cx="562.8" cy="140.7" r="1.9" fill="none" stroke="#c4855a" stroke-width="0.9"/>
<text x="569.5" y="144.2" font-size="10" text-anchor="start" fill="#5c5c5c" stroke="#5c5c5c" stroke-width="0.2" >Beta-DIC</text>
<circle cx="562.8" cy="154.2" r="1.9" fill="none" stroke="#7b98c6" stroke-width="0.9"/>
<text x="569.5" y="157.7" font-size="10" text-anchor="start" fill="#5c5c5c" stroke="#5c5c5c" stroke-width="0.2" >–beta-TA</text>
<circle cx="562.8" cy="167.7" r="2.25" fill="#c2561a"/>
<text x="569.5" y="171.2" font-size="10" text-anchor="start" fill="#5c5c5c" stroke="#5c5c5c" stroke-width="0.2" >Offshore beta-DIC</text>
<circle cx="562.8" cy="181.2" r="2.25" fill="#2169b3"/>
<text x="569.5" y="184.7" font-size="10" text-anchor="start" fill="#5c5c5c" stroke="#5c5c5c" stroke-width="0.2" >Offshore -beta-TA</text>
<polygon points="562.8,192.09 565.3,196.44 560.3,196.44" fill="#c2561a"/>
<text x="569.5" y="198.2" font-size="10" text-anchor="start" fill="#5c5c5c" stroke="#5c5c5c" stroke-width="0.2" >GOM beta-DIC</text>
<polygon points="562.8,205.59 565.3,209.94 560.3,209.94" fill="#2169b3"/>
<text x="569.5" y="211.7" font-size="10" text-anchor="start" fill="#5c5c5c" stroke="#5c5c5c" stroke-width="0.2" >GOM -beta-TA</text>
</g>
</svg>
</body></html>
